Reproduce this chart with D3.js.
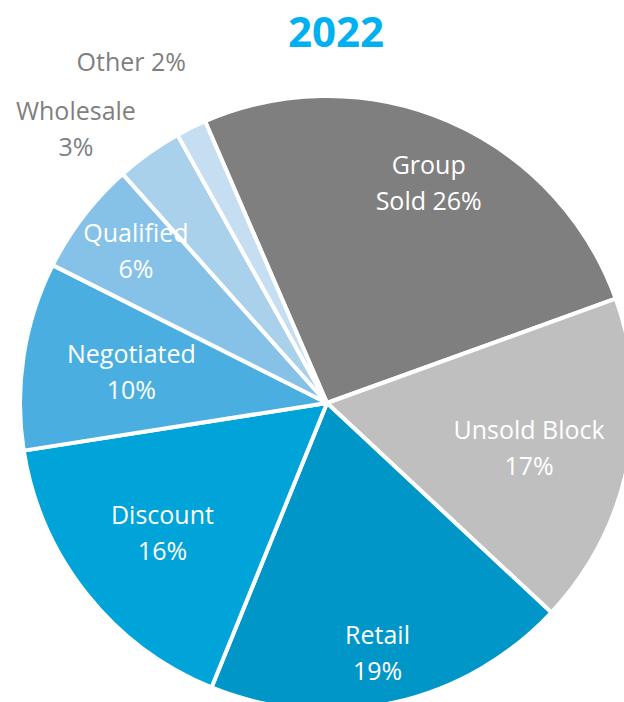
<!DOCTYPE html>
<html>
  <head>
    <meta charset="UTF-8">
    <title>2022</title>
    <script src="https://d3js.org/d3.v7.min.js"></script>
    <style>
      body { margin: 0; background: #fff; }
    </style>
  </head>
  <body>
    <div id="chart-container"></div>
  <script type="text/javascript">

    // Data
    const title = "2022";
    const categories = ["Group Sold", "Unsold Block", "Retail", "Discount", "Negotiated", "Qualified", "Wholesale", "Other"];
    const values = [26.0, 17.5, 19.2, 16.4, 9.9, 6.0, 3.5, 1.6];
    const labelLines = [
        ["Group", "Sold 26%"],
        ["Unsold Block", "17%"],
        ["Retail", "19%"],
        ["Discount", "16%"],
        ["Negotiated", "10%"],
        ["Qualified", "6%"],
        ["Wholesale", "3%"],
        ["Other 2%"]
    ];
    const colours = ["#7f7f7f", "#bfbfbf", "#0096c8", "#00a4d8", "#4aafe0", "#86c2e8", "#a9d1ec", "#c5def2"];

    // Layout
    const width = 624;
    const height = 702;
    const cx = 327, cy = 403;
    const radius = 307;
    const startAngle = -23.4 * Math.PI / 180;
    const labelRadius = [242, 207, 255, 210, 198, 244, 372, 393];
    const labelAngleShift = [1.5, 1, 1, 0, 0, 1, -7, -3.6];
    const outside = [false, false, false, false, false, false, true, true];

    const svg = d3.select("#chart-container")
        .append("svg")
        .attr("width", width)
        .attr("height", height)
        .style("font-family", "'Open Sans', 'Liberation Sans', sans-serif");

    const pie = d3.pie()
        .sort(null)
        .value(d => d)
        .startAngle(startAngle)
        .endAngle(startAngle + 2 * Math.PI);

    const arcs = pie(values);

    const arc = d3.arc()
        .innerRadius(0)
        .outerRadius(radius);

    const g = svg.append("g")
        .attr("transform", `translate(${cx},${cy})`);

    g.selectAll("path")
        .data(arcs)
        .join("path")
        .attr("d", arc)
        .attr("fill", (d, i) => colours[i])
        .attr("stroke", "#fff")
        .attr("stroke-width", 4)
        .attr("stroke-linejoin", "round");

    // Labels
    const labels = g.selectAll("text.label")
        .data(arcs)
        .join("text")
        .attr("class", "label")
        .attr("text-anchor", "middle")
        .attr("font-size", 25)
        .attr("fill", (d, i) => outside[i] ? "#7f7f7f" : "#fff")
        .attr("transform", (d, i) => {
            const a = (d.startAngle + d.endAngle) / 2 + labelAngleShift[i] * Math.PI / 180;
            const r = labelRadius[i];
            return `translate(${r * Math.sin(a)},${-r * Math.cos(a)})`;
        });

    labels.each(function(d, i) {
        const lines = labelLines[i];
        const lh = 36;
        const t = d3.select(this);
        lines.forEach((line, j) => {
            t.append("tspan")
                .attr("x", 0)
                .attr("y", (j - (lines.length - 1) / 2) * lh + 9)
                .text(line);
        });
    });

    // Title
    svg.append("text")
        .attr("x", 336)
        .attr("y", 47)
        .attr("text-anchor", "middle")
        .attr("font-size", 42)
        .attr("font-weight", "bold")
        .attr("fill", "#00b0f0")
        .text(title);
  </script>
  </body>
</html>
